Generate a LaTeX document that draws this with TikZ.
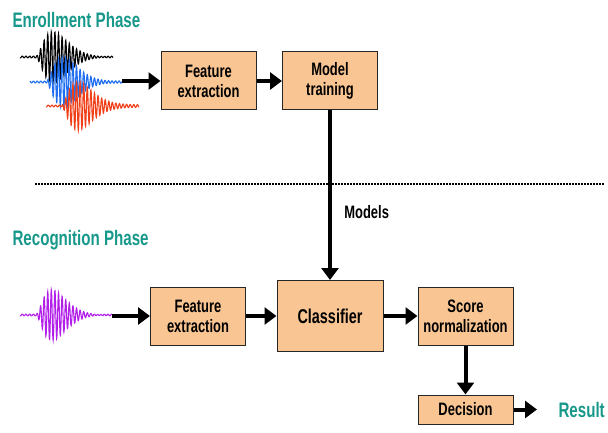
\documentclass[tikz,border=0pt]{standalone}
\usepackage{fontspec}
\setmainfont{Liberation Sans}[FakeStretch=0.72]
\usetikzlibrary{positioning, arrows.meta}

\definecolor{boxfill}{HTML}{F9C592}
\definecolor{phaseteal}{HTML}{17988A}
\definecolor{waveblue}{HTML}{1F6FF0}
\definecolor{wavered}{HTML}{F0401A}
\definecolor{wavepurple}{HTML}{B21FE8}

\begin{document}
\begin{tikzpicture}[x=1pt, y=-1pt,
    declare function={env(\t)=\t*\t*exp(2-2*\t);},
    block/.style={draw=black!85, fill=boxfill, line width=1pt,
      minimum width=95pt, minimum height=58pt, align=center,
      font=\bfseries\fontsize{18}{20}\selectfont},
    flow/.style={line width=4pt, -{Triangle[length=12pt,width=17pt]}},
    phase/.style={text=phaseteal, anchor=west,
      font=\bfseries\fontsize{21}{23}\selectfont},
    wave/.style={line width=1.1pt, samples=450},
  ]
  \useasboundingbox (0,0) rectangle (608,433);

  % enrollment
  \node[phase] (enroll) at (9,20) {Enrollment Phase};
  \foreach \c/\xa/\xb/\wy/\s in {black/20/113/57/36, waveblue/30/122/82/46, wavered/46/139/106/61}
    \draw[wave, \c] plot[domain=\xa:\xb]
      (\x, {\wy - 25*env(max((\x-\s)/17,0))*sin(\x*100) - 0.9*cos(\x*97)});
  \coordinate (wavein) at (122,81);
  \node[block] (fe1) at (208.5,81) {Feature\\extraction};
  \node[block] (train) at (330,81) {Model\\training};
  \draw[flow] (wavein) -- (fe1);
  \draw[flow] (fe1) -- (train);

  % separator
  \draw[line width=2.8pt, dash pattern=on 1.6pt off 1.4pt] (35,184) -- (604,184);

  % recognition
  \node[phase] (recog) at (9,240) {Recognition Phase};
  \draw[wave, wavepurple] plot[domain=20:113]
    (\x, {315 - 25*env(max((\x-36)/16,0))*sin(\x*100) - 0.9*cos(\x*97)});
  \coordinate (testin) at (112,316);
  \node[block] (fe2) at (198,316) {Feature\\extraction};
  \node[block, minimum width=106pt, minimum height=71pt,
    font=\bfseries\fontsize{20}{22}\selectfont] (clf) at (330,316) {Classifier};
  \node[block] (norm) at (465.5,316) {Score\\normalization};
  \node[block, minimum height=29pt] (dec) at (465.5,409.5) {Decision};
  \node[text=phaseteal, font=\bfseries\fontsize{21}{23}\selectfont,
    anchor=west] (res) at (555,409.5) {Result};

  \draw[flow] (testin) -- (fe2);
  \draw[flow] (fe2) -- (clf);
  \draw[flow] (clf) -- (norm);
  \draw[flow] (norm) -- (dec);
  \draw[flow, shorten >=18pt] (dec) -- (res);
  \draw[flow] (train) -- node[right=9pt, pos=0.6,
    font=\bfseries\fontsize{18}{20}\selectfont] (models) {Models} (clf);
\end{tikzpicture}
\end{document}
